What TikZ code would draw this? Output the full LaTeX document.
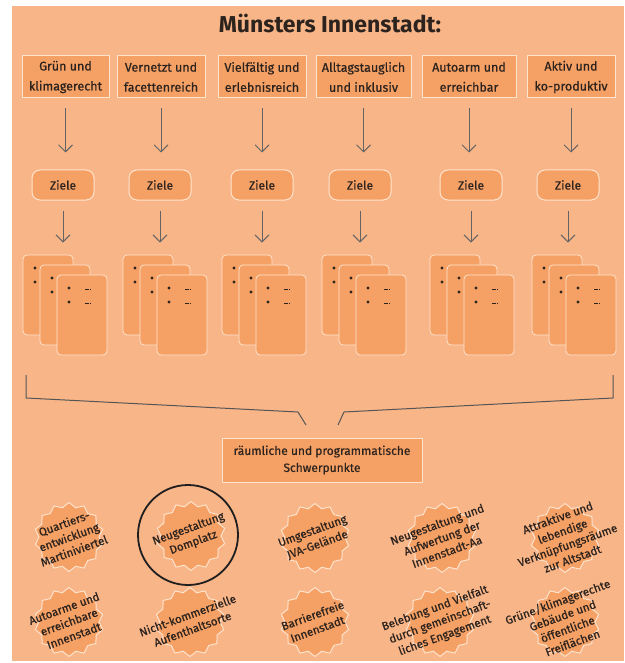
\documentclass[tikz,border=0pt]{standalone}
\usepackage{fontspec}
\setmainfont{Fira Sans}
\newfontfamily\medfont{Fira Sans}[FakeBold=0.6]
\usetikzlibrary{shapes.geometric,arrows.meta}
\definecolor{bg}{RGB}{248,181,136}
\definecolor{boxf}{RGB}{245,160,100}
\definecolor{edge}{RGB}{255,228,205}
\definecolor{ink}{RGB}{45,35,30}
\definecolor{arrowc}{RGB}{100,100,100}
\begin{document}
\begin{tikzpicture}[x=1pt,y=-1pt,
  topbox/.style={draw=edge, line width=1pt, fill=boxf, minimum height=42pt, align=center,
    font=\medfont\fontsize{12.5}{20}\selectfont, text=ink, inner sep=0pt},
  zielbox/.style={draw=edge, line width=1pt, fill=boxf, rounded corners=8pt, minimum width=62pt,
    minimum height=30pt, font=\medfont\fontsize{12}{14}\selectfont, text=ink, inner sep=0pt},
  card/.style={draw=edge, line width=0.8pt, fill=boxf, rounded corners=4pt, minimum width=50pt,
    minimum height=80pt, inner sep=0pt},
  dotmark/.style={circle, fill=ink, minimum size=3.4pt, inner sep=0pt},
  dashmark/.style={draw=ink, line width=0.8pt, dash pattern=on 1.6pt off 0.8pt},
  arr/.style={draw=arrowc, line width=1pt, -{Straight Barb[length=7pt,width=14pt]}},
  bracketline/.style={draw=arrowc!85!black, line width=1pt},
  starburst/.style={shape=star, star points=14, star point ratio=1.15, minimum size=69pt,
    draw=edge, fill=boxf, line width=1pt, inner sep=0pt},
  startext/.style={rotate=20, align=center, text=ink, font=\medfont\fontsize{11.5}{14.5}\selectfont, inner sep=0pt},
]
\useasboundingbox (0,0) rectangle (624,663);
\fill[bg] (12,6) rectangle (624,661);

\node[font=\fontsize{23}{26}\selectfont\bfseries, text=ink] (title) at (330,24) {Münsters Innenstadt:};

% top boxes
\node[topbox, minimum width=87pt] (t1) at (65.5,77) {Grün und\\klimagerecht};
\node[topbox, minimum width=88pt] (t2) at (161,77) {Vernetzt und\\facettenreich};
\node[topbox, minimum width=88pt] (t3) at (262,77) {Vielfältig und\\erlebnisreich};
\node[topbox, minimum width=95pt] (t4) at (363.5,77) {Alltagstauglich\\und inklusiv};
\node[topbox, minimum width=94pt] (t5) at (469,77) {Autoarm und\\erreichbar};
\node[topbox, minimum width=88pt] (t6) at (571,77) {Aktiv und\\ko-produktiv};

% Ziele
\node[zielbox] (z1) at (63,185) {Ziele};
\node[zielbox] (z2) at (160,185) {Ziele};
\node[zielbox] (z3) at (262,185) {Ziele};
\node[zielbox] (z4) at (360,185) {Ziele};
\node[zielbox] (z5) at (471,185) {Ziele};
\node[zielbox] (z6) at (568,185) {Ziele};

% card stacks
\foreach \i/\sx in {1/23,2/123,3/222,4/322,5/430,6/532}{
  \node[card] (c\i a) at (\sx+25,295) {};
  \node[dotmark] (d\i a1) at (\sx+12,268) {};
  \node[dotmark] (d\i a2) at (\sx+12,282) {};
  \node[card] (c\i b) at (\sx+42,305) {};
  \node[dotmark] (d\i b1) at (\sx+29,278) {};
  \node[dotmark] (d\i b2) at (\sx+29,292) {};
  \node[card] (c\i c) at (\sx+59,315) {};
  \node[dotmark] (d\i c1) at (\sx+46,288) {};
  \node[dotmark] (d\i c2) at (\sx+46,302) {};
  \draw[dashmark] (\sx+62,289.5) -- (\sx+69,289.5);
  \draw[dashmark] (\sx+62,303.5) -- (\sx+69,303.5);
}

% arrows
\foreach \i in {1,...,6}{
  \draw[arr, shorten <=10pt, shorten >=17pt] (t\i.south) -- (t\i.south |- z\i.north);
  \draw[arr, shorten <=10pt, shorten >=12pt] (z\i.south) -- (z\i.south |- c\i a.north);
}

% bracket
\coordinate (bl1) at (26,375);
\coordinate (bl2) at (26,398);
\coordinate (bl3) at (298,412);
\coordinate (bl4) at (306,425);
\coordinate (br1) at (613,375);
\coordinate (br2) at (613,398);
\coordinate (br3) at (344,412);
\coordinate (br4) at (338,425);
\draw[bracketline] (bl1) -- (bl2) -- (bl3) -- (bl4);
\draw[bracketline] (br1) -- (br2) -- (br3) -- (br4);

\node[topbox, minimum width=200pt, minimum height=44pt, font=\medfont\fontsize{12}{17}\selectfont] (focus) at (322,460)
  {räumliche und programmatische\\Schwerpunkte};

% stars row 1
\node[starburst] (s1) at (69,537) {};
\node[startext] (s1t) at (s1) {Quartiers-\\entwicklung\\Martiniviertel};
\node[starburst] (s2) at (191,536) {};
\node[startext] (s2t) at (s2) {Neugestaltung\\Domplatz};
\node[starburst] (s3) at (315,538) {};
\node[startext] (s3t) at (s3) {Umgestaltung\\JVA-Gelände};
\node[starburst] (s4) at (442,538) {};
\node[startext] (s4t) at (s4) {Neugestaltung und\\Aufwertung der\\Innenstadt-Aa};
\node[starburst] (s5) at (565,538) {};
\node[startext] (s5t) at (s5) {Attraktive und\\lebendige\\Verknüpfungsräume\\zur Altstadt};
% stars row 2
\node[starburst] (s6) at (69,622) {};
\node[startext] (s6t) at (s6) {Autoarme und\\erreichbare\\Innenstadt};
\node[starburst] (s7) at (190,622) {};
\node[startext] (s7t) at (s7) {Nicht-kommerzielle\\Aufenthaltsorte};
\node[starburst] (s8) at (315,622) {};
\node[startext] (s8t) at (s8) {Barrierefreie\\Innenstadt};
\node[starburst] (s9) at (440,622) {};
\node[startext] (s9t) at (s9) {Belebung und Vielfalt\\durch gemeinschaft-\\liches Engagement};
\node[starburst] (s10) at (565,622) {};
\node[startext] (s10t) at (s10) {Grüne/klimagerechte\\Gebäude und\\öffentliche\\Freiflächen};

\node[circle, draw=black!88, line width=1.8pt, minimum size=100pt, inner sep=0pt] (ring) at (188,535) {};
\end{tikzpicture}
\end{document}
